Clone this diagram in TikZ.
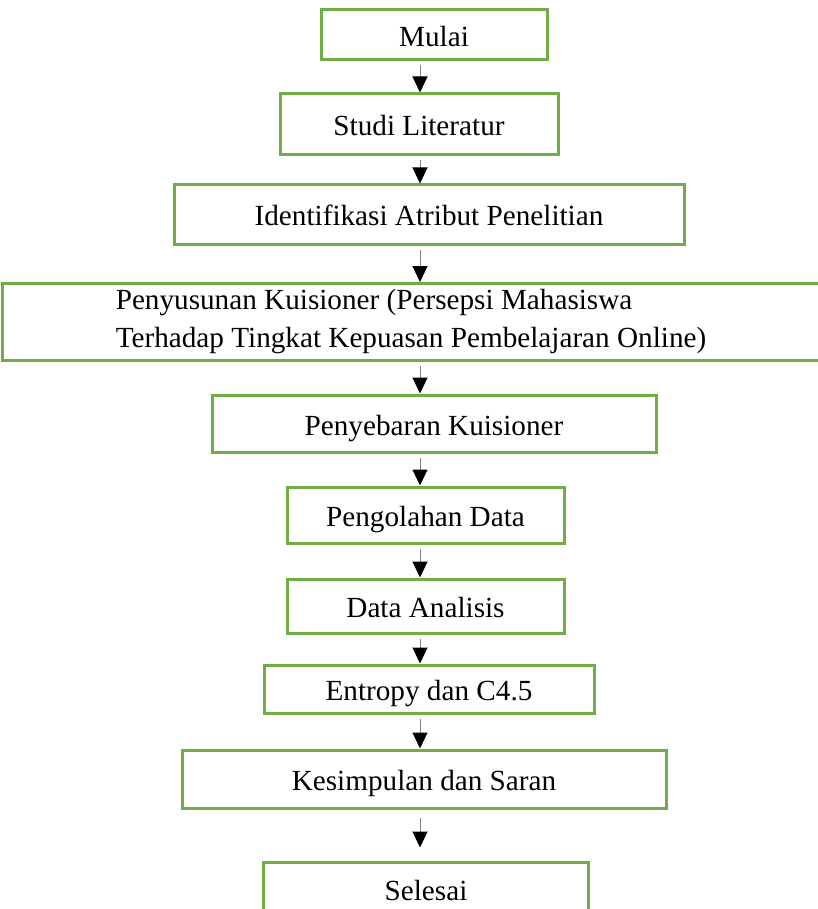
\documentclass[tikz,border=0pt]{standalone}
\usepackage{fontspec}
\setmainfont{Liberation Serif}
\usepackage{xcolor}
\usetikzlibrary{arrows.meta,positioning}
\definecolor{boxgreen}{RGB}{112,173,71}

\begin{document}
\begin{tikzpicture}[
		x=0.5pt, y=-0.5pt,
		proses/.style={
			align=center, draw=boxgreen, line width=1.5pt, inner sep=0pt, font=\fontsize{14.6}{19}\selectfont
		},
		satu/.style={
			proses, text height=13.5pt, text depth=2pt
		},
		alur/.style={
			draw=gray, line width=0.5pt, shorten <=2pt, -{Triangle[width=7.5pt,length=8pt,color=black]}
		},
		]
		\useasboundingbox (0,0) rectangle (818,909);
		
		% Proses with coords
		\node [satu, minimum width=113pt, minimum height=25pt] (mulai) at (434,35) {Mulai};
		\node [satu, minimum width=139pt, minimum height=30.5pt] (studi) at (419,124.5) {Studi Literatur};
		\node [satu, minimum width=255pt, minimum height=29.5pt] (identifikasi) at (429,214.5) {Identifikasi Atribut Penelitian};
		\node [proses, align=left, minimum width=408.5pt, minimum height=38.5pt] (penyusunan) at (411,322) {Penyusunan Kuisioner (Persepsi Mahasiswa\\Terhadap Tingkat Kepuasan Pembelajaran Online)};
		\node [satu, minimum width=222pt, minimum height=28.5pt] (penyebaran) at (434,423.5) {Penyebaran Kuisioner};
		\node [satu, minimum width=138.5pt, minimum height=28pt] (pengolahan) at (425.5,515) {Pengolahan Data};
		\node [satu, minimum width=138.5pt, minimum height=27pt] (analisis) at (425.5,606) {Data Analisis};
		\node [satu, minimum width=165pt, minimum height=24pt] (entropy) at (429,689) {Entropy dan C4.5};
		\node [satu, minimum width=242pt, minimum height=29pt] (kesimpulan) at (424,779) {Kesimpulan dan Saran};
		\node [satu, minimum width=162.5pt, minimum height=27pt] (selesai) at (426,889) {Selesai};
		
		% Alur
		\coordinate (jalur) at (420,0);
		\draw [alur] (mulai.south -| jalur) -- (studi.north -| jalur);
		\draw [alur] (studi.south -| jalur) -- (identifikasi.north -| jalur);
		\draw [alur] (identifikasi.south -| jalur) -- (penyusunan.north -| jalur);
		\draw [alur] (penyusunan.south -| jalur) -- (penyebaran.north -| jalur);
		\draw [alur] (penyebaran.south -| jalur) -- (pengolahan.north -| jalur);
		\draw [alur] (pengolahan.south -| jalur) -- (analisis.north -| jalur);
		\draw [alur] (analisis.south -| jalur) -- (entropy.north -| jalur);
		\draw [alur] (entropy.south -| jalur) -- (kesimpulan.north -| jalur);
		\draw [alur, shorten <=4pt, shorten >=6.5pt] (kesimpulan.south -| jalur) -- (selesai.north -| jalur);
		
	\end{tikzpicture}
\end{document}
